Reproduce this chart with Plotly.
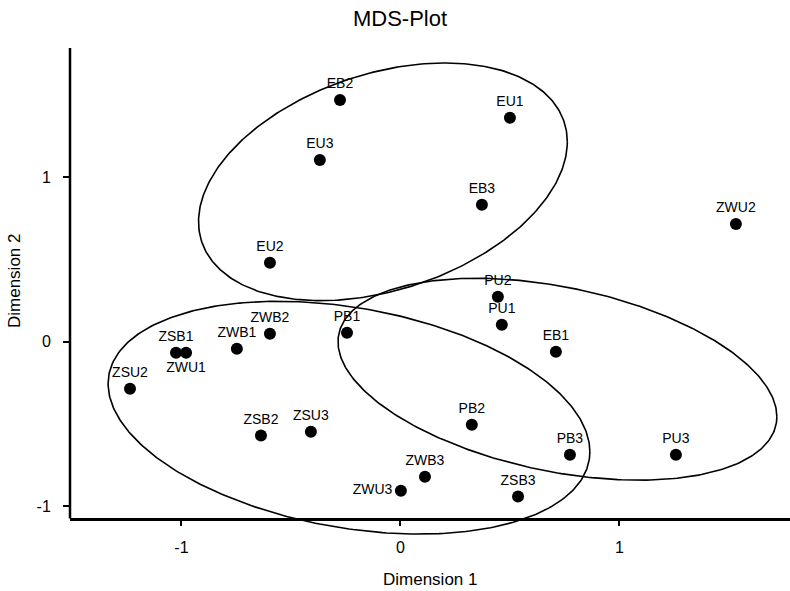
import numpy as np
import plotly.graph_objects as go

# ---- data ----
labels = ["EB2", "EU1", "EU3", "EB3", "ZWU2", "EU2", "PU2", "PU1", "EB1", "PB1",
          "ZWB2", "ZWB1", "ZSB1", "ZWU1", "ZSU2", "ZSB2", "ZSU3", "PB2", "PB3",
          "PU3", "ZWB3", "ZWU3", "ZSB3"]
dim1 = [-0.276, 0.500, -0.368, 0.372, 1.532, -0.596, 0.445, 0.463, 0.710, -0.244,
        -0.596, -0.747, -1.025, -0.979, -1.235, -0.637, -0.409, 0.326, 0.774,
        1.258, 0.112, 0.002, 0.537]
dim2 = [1.471, 1.362, 1.106, 0.833, 0.717, 0.480, 0.274, 0.103, -0.061, 0.055,
        0.049, -0.043, -0.067, -0.067, -0.286, -0.571, -0.547, -0.505, -0.687,
        -0.687, -0.821, -0.906, -0.942]
label_pos = ["top center"] * len(labels)
label_pos[labels.index("ZWU1")] = "bottom center"
label_pos[labels.index("ZWU3")] = "middle left"

# group ellipses: centre, half-extent in x and y, correlation
ell_cx = [-0.080, -0.235, 0.717]
ell_cy = [0.973, -0.462, -0.228]
ell_sx = [0.842, 1.100, 1.002]
ell_sy = [0.723, 0.708, 0.614]
ell_r = [0.336, -0.292, -0.371]

x_ticks = [-1, 0, 1]
y_ticks = [-1, 0, 1]

X_RANGE = [-1.509, 1.779]
Y_RANGE = [-1.20, 1.787]
X_AXIS_AT = -1.076

FONT = "Liberation Sans, Arial, sans-serif"

fig = go.Figure()

t = np.linspace(0, 2 * np.pi, 361)
for cx, cy, sx, sy, r in zip(ell_cx, ell_cy, ell_sx, ell_sy, ell_r):
    ex = cx + sx * np.cos(t)
    ey = cy + sy * (r * np.cos(t) + np.sqrt(1 - r * r) * np.sin(t))
    fig.add_trace(go.Scatter(x=ex, y=ey, mode="lines",
                             line=dict(color="black", width=1.6),
                             hoverinfo="skip", showlegend=False))

fig.add_trace(go.Scatter(
    x=dim1, y=dim2, mode="markers+text", text=labels, textposition=label_pos,
    marker=dict(color="black", size=12, symbol="circle"),
    textfont=dict(family=FONT, size=14, color="black"),
    cliponaxis=False, showlegend=False))

pos = (X_AXIS_AT - Y_RANGE[0]) / (Y_RANGE[1] - Y_RANGE[0])

fig.update_layout(
    width=790, height=591,
    margin=dict(l=70, r=0, t=48, b=52, autoexpand=False),
    paper_bgcolor="white", plot_bgcolor="white",
    font=dict(family=FONT, color="black"),
    title=dict(text="MDS-Plot", x=400 / 790, xref="container", xanchor="center",
               y=1 - 18 / 591, yref="container", yanchor="middle",
               font=dict(family=FONT, size=22, color="black")),
    xaxis=dict(range=X_RANGE, tickvals=x_ticks, ticktext=[str(v) for v in x_ticks],
               showgrid=False, zeroline=False, showline=True, linecolor="black",
               linewidth=2.5, ticks="outside", ticklen=6, tickwidth=1.5,
               tickcolor="black", anchor="free", position=pos,
               ticklabelstandoff=7, automargin=False,
               tickfont=dict(family=FONT, size=16, color="black")),
    yaxis=dict(range=Y_RANGE, tickvals=y_ticks, ticktext=[str(v) for v in y_ticks],
               showgrid=False, zeroline=False, showline=False,
               ticks="outside", ticklen=6, tickwidth=1.5, tickcolor="black",
               ticklabelstandoff=9, automargin=False,
               tickfont=dict(family=FONT, size=16, color="black")),
    shapes=[dict(type="line", xref="paper", yref="paper", x0=0, x1=0,
                 y0=pos, y1=1, line=dict(color="black", width=2.5))],
    annotations=[
        dict(text="Dimension 1", xref="paper", yref="paper",
             x=(430 - 70) / 720, y=-(579 - 539) / 491, showarrow=False,
             xanchor="center", yanchor="middle",
             font=dict(family=FONT, size=17, color="black")),
        dict(text="Dimension 2", xref="paper", yref="paper",
             x=-(70 - 14) / 720, y=(539 - 281) / 491, showarrow=False,
             textangle=-90, xanchor="center", yanchor="middle",
             font=dict(family=FONT, size=17, color="black")),
    ],
)

fig.write_html("out.html", config={"displayModeBar": False},
               post_script="document.body.style.margin='0';"
                           "document.body.style.overflow='hidden';")
